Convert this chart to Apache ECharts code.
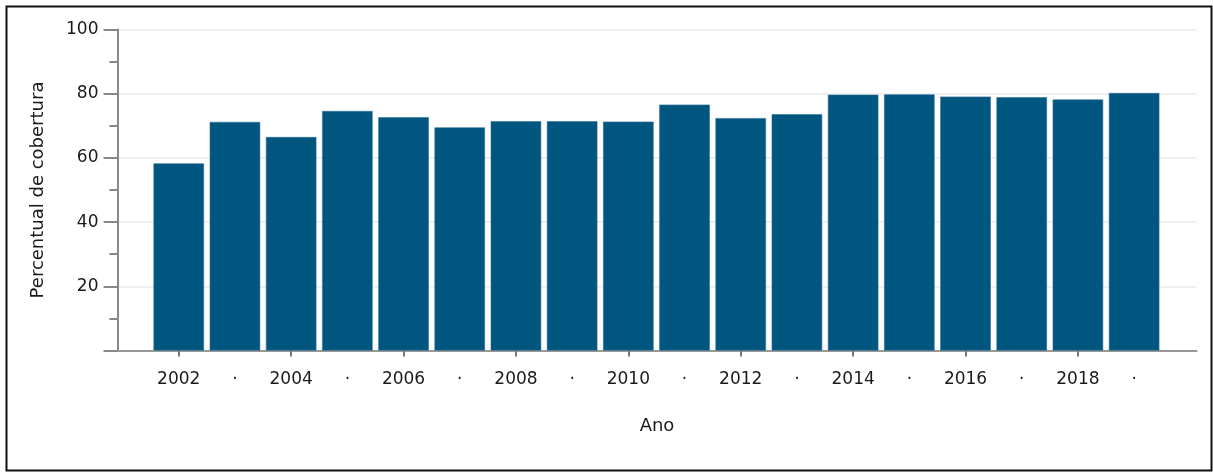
<!DOCTYPE html>
<html>
<head>
<meta charset="utf-8">
<script src="https://cdn.jsdelivr.net/npm/echarts@6/dist/echarts.min.js"></script>
<style>
html,body{margin:0;padding:0;background:#fff;}
#chart{width:1213px;height:472px;}
</style>
</head>
<body>
<div id="chart"></div>
<script>
const years = [2002,2003,2004,2005,2006,2007,2008,2009,2010,2011,2012,2013,2014,2015,2016,2017,2018,2019];
const coverage = [58.3,71.2,66.5,74.6,72.7,69.5,71.4,71.4,71.3,76.6,72.4,73.6,79.7,79.8,79.1,78.9,78.2,80.2];
const tickYears = [2002,2004,2006,2008,2010,2012,2014,2016,2018];
const yTitle = 'Percentual de cobertura';
const xTitle = 'Ano';

const font = 'DejaVu Sans, Verdana, sans-serif';
const chart = echarts.init(document.getElementById('chart'), null, {renderer:'canvas'});
chart.setOption({
  animation:false,
  backgroundColor:'#fff',
  textStyle:{fontFamily:font},
  graphic:[{
    type:'rect', left:4, top:4, silent:true,
    shape:{x:0,y:0,width:1205,height:464},
    style:{fill:'none',stroke:'#111',lineWidth:2}
  }],
  grid:{left:117.5, right:16.5, top:29.5, bottom:121.5, containLabel:false},
  xAxis:{
    type:'value', min:2000.91, max:2020.11,
    name:xTitle, nameLocation:'middle', nameGap:67,
    nameTextStyle:{color:'#1a1a1a', fontSize:18, fontFamily:font},
    splitLine:{show:false},
    axisLine:{show:true, onZero:false, lineStyle:{color:'#999', width:2}},
    axisTick:{show:true, customValues:tickYears, length:6, lineStyle:{color:'#777', width:2}},
    axisLabel:{customValues:years, margin:21, color:'#1a1a1a', fontSize:17, fontFamily:font,
      formatter:function(v){ return (Math.round(v)%2===0) ? String(Math.round(v)) : '·'; }}
  },
  yAxis:{
    type:'value', min:0, max:100, interval:20,
    name:yTitle, nameLocation:'middle', nameGap:70, nameRotate:90,
    nameTextStyle:{color:'#1a1a1a', fontSize:18, fontFamily:font},
    axisLine:{show:true, lineStyle:{color:'#888', width:2}},
    axisTick:{show:true, length:14, lineStyle:{color:'#888', width:2}},
    minorTick:{show:true, splitNumber:2, length:8, lineStyle:{color:'#888', width:2}},
    splitLine:{show:true, lineStyle:{color:'#f0f0f0', width:2}},
    axisLabel:{margin:19, color:'#1a1a1a', fontSize:17, fontFamily:font,
      formatter:function(v){ return v===0 ? '' : String(v); }}
  },
  series:[{
    type:'bar',
    barWidth:50.5,
    data: years.map((y,i)=>[y, coverage[i]]),
    itemStyle:{color:'#00567F', borderColor:'#2a7098', borderWidth:0.6}
  }]
});
</script>
</body>
</html>
